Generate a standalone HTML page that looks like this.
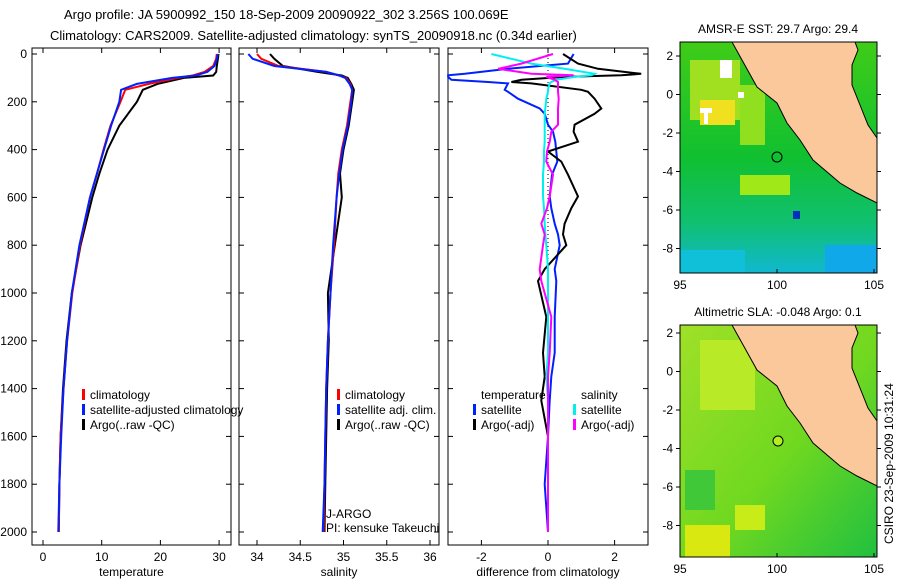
<!DOCTYPE html>
<html><head><meta charset="utf-8"><style>
body{margin:0;background:#fff}
svg{display:block;font-family:"Liberation Sans",sans-serif}
text{fill:#000}
</style></head><body>
<svg id="fig" width="900" height="580" viewBox="0 0 900 580" xmlns="http://www.w3.org/2000/svg">
<rect width="900" height="580" fill="#fff"/>
<text x="64" y="19" font-size="13">Argo profile: JA 5900992_150 18-Sep-2009 20090922_302 3.256S 100.069E</text>
<text x="50" y="40" font-size="13">Climatology: CARS2009. Satellite-adjusted climatology: synTS_20090918.nc (0.34d earlier)</text>

<g id="map1">
 <text x="778" y="33" font-size="12" text-anchor="middle">AMSR-E SST: 29.7 Argo: 29.4</text>
 <defs>
  <linearGradient id="g1" x1="0" y1="0" x2="0" y2="1">
   <stop offset="0" stop-color="#40cc18"/><stop offset="0.5" stop-color="#10c030"/><stop offset="0.78" stop-color="#10c070"/><stop offset="1" stop-color="#10b8d0"/>
  </linearGradient>
  <linearGradient id="g2" x1="0" y1="0" x2="1" y2="1">
   <stop offset="0" stop-color="#a0e028"/><stop offset="0.55" stop-color="#70d820"/><stop offset="1" stop-color="#20c040"/>
  </linearGradient>
 </defs>
 <rect x="680" y="42" width="197" height="231" fill="url(#g1)"/>
 <rect x="680" y="250" width="65" height="23" fill="#10c0d8"/>
 <rect x="825" y="245" width="52" height="28" fill="#10a8e8"/>
 <rect x="690" y="60" width="50" height="60" fill="#a0e020"/>
 <rect x="700" y="100" width="35" height="25" fill="#f0e020"/>
 <rect x="740" y="85" width="25" height="60" fill="#90e020"/>
 <rect x="740" y="175" width="50" height="20" fill="#a0e818"/>
 <rect x="700" y="108" width="12" height="5" fill="#fff"/>
 <rect x="704" y="108" width="4" height="16" fill="#fff"/>
 <rect x="720" y="60" width="12" height="18" fill="#fff"/>
 <rect x="738" y="92" width="6" height="6" fill="#fff"/>
 <rect x="793" y="211" width="7" height="8" fill="#0030c0"/>
 <polygon points="732,42 757,87 777,103 787,123 800,140 813,160 840,183 857,193 877,203 877,138 868,125 860,105 852,85 852,65 858,50 855,42" fill="#fac89a" stroke="#000" stroke-width="1"/>
 <rect x="680" y="42" width="197" height="231" fill="none" stroke="#000"/>
 <circle cx="777" cy="157" r="5" fill="none" stroke="#000"/>
</g>
<g id="map2">
 <text x="778" y="316" font-size="12" text-anchor="middle">Altimetric SLA: -0.048 Argo: 0.1</text>
 <rect x="680" y="325" width="197" height="232" fill="url(#g2)"/>
 <rect x="685" y="525" width="45" height="32" fill="#d8e810"/>
 <rect x="735" y="505" width="30" height="25" fill="#c8ec18"/>
 <rect x="700" y="340" width="55" height="70" fill="#b8ea28"/>
 <rect x="685" y="470" width="30" height="40" fill="#40c838"/>
 <polygon points="732,325 757,370 777,386 787,406 800,423 813,443 840,466 857,476 877,486 877,421 868,408 860,388 852,368 852,348 858,333 855,325" fill="#fac89a" stroke="#000" stroke-width="1"/>
 <rect x="680" y="325" width="197" height="232" fill="none" stroke="#000"/>
 <circle cx="778" cy="441" r="5" fill="#b0f020" stroke="#000"/>
</g>
<text transform="translate(893,544) rotate(-90)" font-size="12">CSIRO 23-Sep-2009 10:31:24</text>
<g id="plots"></g>
</svg>
<script>
const depths = [0,20,50,75,90,100,125,150,200,300,400,500,600,800,1000,1200,1400,1600,1800,2000];
const tClim = [29.6,29.5,29.0,27.5,25.5,23,18,14,13.2,11.5,10.3,9.2,8.0,6.3,5.0,4.1,3.5,3.0,2.8,2.7];
const tSat  = [29.8,29.6,29.2,28.0,26.0,22,16,13.3,13.0,11.6,10.4,9.2,8.0,6.2,4.9,4.1,3.5,3.1,2.8,2.6];
const tArgo = [29.9,29.8,29.6,29.5,29.0,24,19.5,17,16,13,11,9.6,8.4,6.4,4.9,4.0,3.4,3.0,2.8,2.7];
const sClim = [34.00,34.05,34.25,34.80,34.95,35.03,35.08,35.10,35.08,35.04,34.98,34.94,34.92,34.89,34.85,34.82,34.80,34.79,34.78,34.77];
const sSat  = [33.90,33.95,34.20,34.80,34.95,35.02,35.07,35.10,35.09,35.05,34.99,34.95,34.92,34.88,34.85,34.82,34.80,34.79,34.78,34.76];
const sArgo = [34.15,34.20,34.30,34.70,34.98,35.05,35.09,35.12,35.10,35.06,35.00,34.96,34.98,34.90,34.82,34.83,34.81,34.80,34.79,34.78];
const dDepth = [0,40,62,83,89,96,108,117,123,150,158,187,228,250,296,325,367,408,450,505,596,645,710,755,800,900,950,1100,1250,1350,1450,1600,1800,2000];
const dTsat  = [0.77,0.6,-1.2,-2.5,-3.0,-3.0,-2.9,-1.8,-1.2,-1.3,-1.2,-0.9,-0.25,-0.1,0,0.15,0.22,0.25,0.28,0.12,0.05,0.1,0.2,0.3,0.35,0.2,0.25,0.2,0.2,0.1,0.05,0,-0.1,0];
const dTargo = [0.45,0.9,1.5,2.8,2.2,0.5,-0.8,-1.1,-0.5,1.0,1.2,1.4,1.6,1.4,0.8,0.77,0.9,0,0.4,0.6,0.9,0.7,0.5,0.45,0.55,-0.1,-0.3,-0.05,-0.15,-0.1,-0.2,0,0,0];
const dSsat  = [-1.7,-0.5,0.5,1.4,1.3,0.8,0.25,0.1,0.05,0,0,-0.05,-0.08,-0.1,-0.1,-0.1,-0.1,-0.12,-0.12,-0.15,-0.15,-0.12,-0.1,-0.08,-0.05,0,0,0,0,-0.05,0,0,0,0];
const dSargo = [0.15,-0.8,-1.5,-0.5,0.77,-0.05,0.2,0.3,0.3,0.3,0.3,0.32,0.3,0.3,0.3,0.1,0.05,-0.03,-0.05,0.15,0.05,-0.03,-0.2,-0.1,-0.15,-0.25,-0.2,0.1,0.05,0,0,0,0,0];
const tTicks=[0,10,20,30], sTicks=[34,34.5,35,35.5,36], dTicks=[-2,0,2], yTicks=[0,200,400,600,800,1000,1200,1400,1600,1800,2000];
const NS="http://www.w3.org/2000/svg";
const G=document.getElementById('plots');
function el(t,a,p){const e=document.createElementNS(NS,t);for(const k in a)e.setAttribute(k,a[k]);(p||G).appendChild(e);return e;}
const Y=d=>54+d*0.239;
const panels=[
 {x0:32,x1:231,fx:v=>43+v*5.87,ticks:tTicks,label:'temperature',name:'temperature-panel'},
 {x0:239,x1:439,fx:v=>257+(v-34)*86.5,ticks:sTicks,label:'salinity',name:'salinity-panel'},
 {x0:448,x1:648,fx:v=>548+v*33.3,ticks:dTicks,label:'difference from climatology',name:'difference-panel'}];
panels.forEach((p,i)=>{
 const g=el('g',{});
 
 
 el('rect',{x:p.x0,y:48,width:p.x1-p.x0,height:497,fill:'none',stroke:'#000'},g);
 p.ticks.forEach(t=>{const x=p.fx(t);
  el('line',{x1:x,x2:x,y1:545,y2:540,stroke:'#000'},g);
  el('line',{x1:x,x2:x,y1:48,y2:53,stroke:'#000'},g);
  const tx=el('text',{x:x,y:561,'font-size':12,'text-anchor':'middle'},g);tx.textContent=t;
  
  });
 yTicks.forEach(d=>{const y=Y(d);
  el('line',{x1:p.x0,x2:p.x0+5,y1:y,y2:y,stroke:'#000'},g);
  el('line',{x1:p.x1,x2:p.x1-5,y1:y,y2:y,stroke:'#000'},g);
  if(i==0){const tx=el('text',{x:27,y:y+4,'font-size':12,'text-anchor':'end'},g);tx.textContent=d;
   
   }});
 const lb=el('text',{x:(p.x0+p.x1)/2,y:576,'font-size':12,'text-anchor':'middle'},g);lb.textContent=p.label;
 
 
});
function line(xs,ds,fx,color,name){
 const pts=xs.map((v,k)=>fx(v).toFixed(1)+','+Y(ds[k]).toFixed(1)).join(' ');
 const e=el('polyline',{points:pts,fill:'none',stroke:color,'stroke-width':2});
 
 
}
const P=panels;
line(tArgo,depths,P[0].fx,'#000','temp-argo-line');
line(tClim,depths,P[0].fx,'#f00','temp-climatology-line');
line(tSat,depths,P[0].fx,'#0020ff','temp-satellite-line');
line(sArgo,depths,P[1].fx,'#000','sal-argo-line');
line(sClim,depths,P[1].fx,'#f00','sal-climatology-line');
line(sSat,depths,P[1].fx,'#0020ff','sal-satellite-line');
el('line',{x1:548,x2:548,y1:54,y2:532,stroke:'#000','stroke-dasharray':'1,3'});
line(dTsat,dDepth,P[2].fx,'#0020ff','diff-temp-satellite-line');
line(dTargo,dDepth,P[2].fx,'#000','diff-temp-argo-line');
line(dSsat,dDepth,P[2].fx,'#00f0f0','diff-sal-satellite-line');
line(dSargo,dDepth,P[2].fx,'#ff00ff','diff-sal-argo-line');
function leg(x,y,color,txt,name){
 if(color)el('rect',{x:x,y:y-9,width:3,height:11,fill:color});
 const t=el('text',{x:x+8,y:y+1,'font-size':12});t.textContent=txt;
 
 
}
leg(82,398,'#f00','climatology','legend-climatology');
leg(82,413,'#0020ff','satellite-adjusted climatology','legend-satellite-adjusted');
leg(82,428,'#000','Argo(..raw -QC)','legend-argo');
leg(337,398,'#f00','climatology','legend-climatology-sal');
leg(337,413,'#0020ff','satellite adj. clim.','legend-satellite-sal');
leg(337,428,'#000','Argo(..raw -QC)','legend-argo-sal');
leg(473,398,null,'temperature','legend-temperature-header');
leg(473,413,'#0020ff','satellite','legend-temp-satellite');
leg(473,428,'#000','Argo(-adj)','legend-temp-argo');
leg(573,398,null,'salinity','legend-salinity-header');
leg(573,413,'#00f0f0','satellite','legend-sal-satellite');
leg(573,428,'#ff00ff','Argo(-adj)','legend-sal-argo');
const a=el('text',{x:326,y:518,'font-size':12});a.textContent='J-ARGO';


const b=el('text',{x:326,y:532,'font-size':12});b.textContent='PI: kensuke Takeuchi';


[[42,273,56],[325,557,333]].forEach(m=>{
 [95,100,105].forEach(l=>{const x=680+(l-95)*19.4;
  el('line',{x1:x,x2:x,y1:m[1],y2:m[1]-4,stroke:'#000'});
  const t=el('text',{x:x,y:m[1]+16,'font-size':12,'text-anchor':'middle'});t.textContent=l;
  
  });
 [2,0,-2,-4,-6,-8].forEach(l=>{const y=m[2]+(2-l)*19.25;
  el('line',{x1:680,x2:676,y1:y,y2:y,stroke:'#000'});
  el('line',{x1:877,x2:881,y1:y,y2:y,stroke:'#000'});
  const t=el('text',{x:673,y:y+4,'font-size':12,'text-anchor':'end'});t.textContent=l;
  
  });
});
</script>
</body></html>
